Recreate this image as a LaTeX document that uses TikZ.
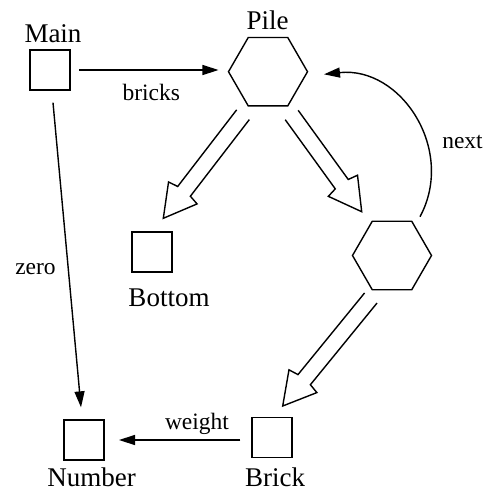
\documentclass[tikz,border=0pt]{standalone}
\usepackage{fontspec}
\setmainfont{Liberation Serif}
\usetikzlibrary{arrows.meta,shapes.geometric,calc}
\tikzset{
  nm/.style={font=\fontsize{27}{30}\selectfont, inner sep=0pt, anchor=base},
  lbl/.style={font=\fontsize{23.5}{26}\selectfont, inner sep=0pt, anchor=base},
  boxn/.style={draw, minimum size=40pt, inner sep=0pt, outer sep=0pt},
  hexn/.style={draw, regular polygon, regular polygon sides=6, minimum size=79pt, inner sep=0pt, outer sep=0pt},
  arr/.style={-{Triangle[length=16pt,width=10pt]}},
  fatline/.style={line join=miter}
}
\newcommand{\fatarr}[2]{%
  \coordinate (fk) at ($(#2)!34pt!(#1)$);
  \coordinate (fb) at ($(#2)!32pt!(#1)$);
  \draw[fatline] ($(#1)!8pt!90:(#2)$) -- ($(fk)!8pt!90:(#2)$) -- ($(fb)!18pt!90:(#2)$) -- (#2)
    -- ($(fb)!18pt!-90:(#2)$) -- ($(fk)!8pt!-90:(#2)$) -- ($(#1)!8pt!-90:(#2)$);}
\begin{document}
\begin{tikzpicture}[x=1pt, y=-1pt, line width=1.4pt]
\useasboundingbox (0,0) rectangle (489,491);
% shapes
\node[boxn] (Main) at (50,70) {};
\node[hexn] (Pile) at (268,71.7) {};
\node[hexn] (Elem) at (392,255.5) {};
\node[boxn] (Bottom) at (152,252) {};
\node[boxn] (Number) at (84,440) {};
\node[boxn] (Brick) at (272,437.5) {};
% names
\node[nm] (tMain) at (53,42.5) {Main};
\node[nm] (tPile) at (267.7,29.3) {Pile};
\node[nm] (tBottom) at (169,306.7) {Bottom};
\node[nm] (tNumber) at (91.7,486.5) {Number};
\node[nm] (tBrick) at (275,486.5) {Brick};
% labels
\node[lbl] (lbricks) at (151.3,100) {bricks};
\node[lbl] (lweight) at (197,429.3) {weight};
\node[lbl] (lzero) at (35.5,274.3) {zero};
\node[lbl] (lnext) at (462.5,148.3) {next};
% thin connectors
\draw[arr, shorten <=9pt, shorten >=10pt] (Main.east) -- (Main.east -| Pile.west);
\draw[arr, shorten <=12.7pt, shorten >=12.7pt] (Main) -- (Number);
\draw[arr, shorten <=11.7pt, shorten >=15pt] (Brick.west |- Number.east) -- (Number.east);
\coordinate (ns) at (420,216.7);
\coordinate (ne) at (324,74.3);
\draw[arr] (ns) .. controls (456,150) and (401,66) .. (ne);
% fat arrows
\coordinate (f1s) at (243,114.7);
\coordinate (f1e) at (163.3,218.3);
\coordinate (f2s) at (291.7,115);
\coordinate (f2e) at (361.7,211.7);
\coordinate (f3s) at (370.8,298);
\coordinate (f3e) at (282.7,406);
\fatarr{f1s}{f1e}
\fatarr{f2s}{f2e}
\fatarr{f3s}{f3e}
\end{tikzpicture}
\end{document}
